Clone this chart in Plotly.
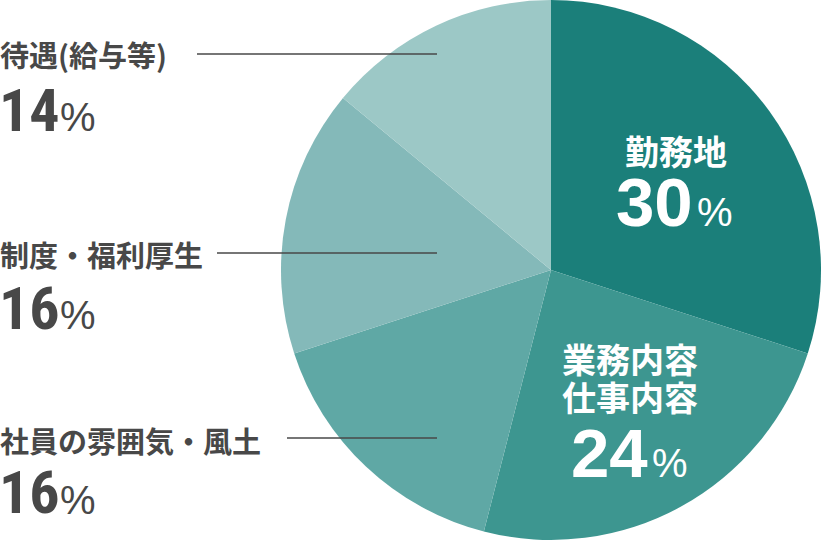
import plotly.graph_objects as go

W, H = 822, 542

labels = ["勤務地", "業務内容<br>仕事内容", "社員の雰囲気・風土", "制度・福利厚生", "待遇(給与等)"]
values = [30, 24, 16, 16, 14]
colors = ["#1b7f7a", "#3d9690", "#5fa8a5", "#84b9b9", "#9cc8c6"]

# which labels sit inside (white) vs outside on the left (gray with leader line)
inside = [True, True, False, False, False]

# layout positions (pixels) for labels
# inside: x center of label, first label line y, line pitch, x where digits end / % starts, digits y, % y
inside_pos = {
    0: dict(cx=676, ly=150, pitch=38, split=695, ny=202, py_=212),
    1: dict(cx=630, ly=358, pitch=38, split=650, ny=453, py_=463),
}
# outside: label y, line y, digits y, % y, line start x
outside_pos = {
    4: dict(ly=54, liney=54, ny=110, py_=117, lx=197),
    3: dict(ly=254, liney=253, ny=308, py_=315, lx=217),
    2: dict(ly=440, liney=438, ny=492, py_=500, lx=287),
}
LINE_END_X = 437

def px(x):
    return x / W

def py(y):
    return 1 - y / H

fig = go.Figure()
fig.add_trace(go.Pie(
    labels=labels,
    values=values,
    sort=False,
    direction="clockwise",
    rotation=0,
    marker=dict(colors=colors, line=dict(width=0)),
    textinfo="none",
    hoverinfo="label+percent",
    showlegend=False,
    domain=dict(x=[281 / W, 821 / W], y=[2 / H, 1]),
))

CONDENSED = "Roboto Condensed, Liberation Sans Narrow, Arial Narrow, sans-serif"
SANS = "Liberation Sans, Arial, Helvetica, sans-serif"
JP_FONT = "Noto Sans CJK JP, Noto Sans, sans-serif"
GRAY = "#484848"
annotations = []
shapes = []


def ann(x, y, text, font, xanchor):
    annotations.append(dict(
        x=px(x), y=py(y), xref="paper", yref="paper", text=text,
        showarrow=False, xanchor=xanchor, yanchor="middle", font=font,
    ))


for i, (lab, val) in enumerate(zip(labels, values)):
    if inside[i]:
        p = inside_pos[i]
        for k, line in enumerate(lab.split("<br>")):
            ann(p["cx"], p["ly"] + k * p["pitch"], f"<b>{line}</b>",
                dict(family=JP_FONT, size=34, color="white"), "center")
        ann(p["split"], p["ny"], f"<b>{val}</b>",
            dict(family=SANS, size=69, color="white"), "right")
        ann(p["split"], p["py_"], "%",
            dict(family=SANS, size=40, color="white"), "left")
    else:
        p = outside_pos[i]
        ann(-2, p["ly"], f"<b>{lab}</b>", dict(family=JP_FONT, size=29, color=GRAY), "left")
        ann(-3, p["ny"], f"<b>{val}</b>", dict(family=CONDENSED, size=60, color=GRAY), "left")
        ann(58, p["py_"], "%", dict(family=SANS, size=40, color=GRAY), "left")
        shapes.append(dict(
            type="line", xref="paper", yref="paper",
            x0=px(p["lx"]), x1=px(LINE_END_X), y0=py(p["liney"]), y1=py(p["liney"]),
            line=dict(color=GRAY, width=1.6),
        ))

fig.update_layout(
    width=W, height=H,
    margin=dict(l=0, r=0, t=0, b=0),
    paper_bgcolor="white",
    plot_bgcolor="white",
    annotations=annotations,
    shapes=shapes,
)

fig.write_html(
    "out.html",
    config={"displayModeBar": False},
    post_script="document.body.style.margin='0px';document.body.style.overflow='hidden';",
)
